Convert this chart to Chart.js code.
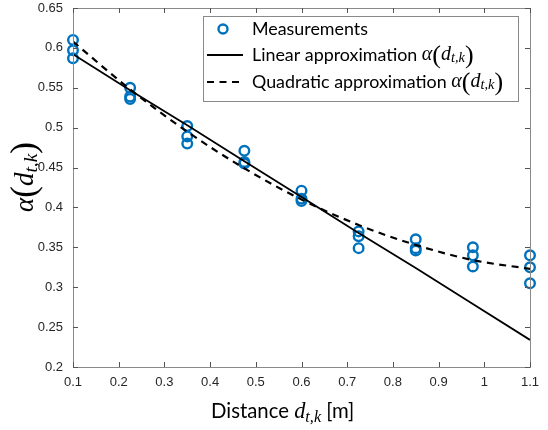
<!DOCTYPE html>
<html>
<head>
<meta charset="utf-8">
<script src="https://cdn.jsdelivr.net/npm/chart.js@4.4.1/dist/chart.umd.min.js"></script>
<style>
  html, body { margin: 0; padding: 0; background: #fff; }
  #wrap { width: 548px; height: 430px; }
</style>
</head>
<body>
<div id="wrap"><canvas id="fitChart" width="548" height="430"></canvas></div>
<script>
'use strict';

// distances where alpha was measured
var distances = [0.1, 0.225, 0.35, 0.475, 0.6, 0.725, 0.85, 0.975, 1.1];
// three repeated measurements per distance
var meas1 = [0.610, 0.550, 0.502, 0.471, 0.421, 0.370, 0.360, 0.350, 0.340];
var meas2 = [0.597, 0.539, 0.489, 0.457, 0.411, 0.364, 0.349, 0.340, 0.325];
var meas3 = [0.587, 0.536, 0.480, 0.455, 0.408, 0.349, 0.346, 0.326, 0.305];
// fitted curves read at the same distances
var linearFit = [0.592, 0.547, 0.503, 0.458, 0.413, 0.368, 0.324, 0.279, 0.234];
var quadFit   = [0.608, 0.548, 0.495, 0.449, 0.410, 0.378, 0.353, 0.334, 0.323];

var xTicks = [0.1, 0.2, 0.3, 0.4, 0.5, 0.6, 0.7, 0.8, 0.9, 1.0, 1.1];
var xTickLabels = ['0.1', '0.2', '0.3', '0.4', '0.5', '0.6', '0.7', '0.8', '0.9', '1', '1.1'];
var yTicks = [0.2, 0.25, 0.3, 0.35, 0.4, 0.45, 0.5, 0.55, 0.6, 0.65];
var yTickLabels = ['0.2', '0.25', '0.3', '0.35', '0.4', '0.45', '0.5', '0.55', '0.6', '0.65'];

var blue = '#0072BD';
var axisGray = '#8a8a8a';
var textColor = '#262626';
var sans = 'Lato, "Open Sans", sans-serif';
var serif = '"Liberation Serif", "DejaVu Serif", serif';

function points(ys) {
    return distances.map(function (d, i) { return { x: d, y: ys[i] }; });
}

var measPoints = points(meas1).concat(points(meas2), points(meas3));

// pick a font size so that text has roughly the wanted width
function fitSize(ctx, text, family, width) {
    ctx.font = '20px ' + family;
    return 20 * width / ctx.measureText(text).width;
}

// draw a run of text pieces with different fonts / vertical offsets
function drawRich(ctx, x, y, parts, align) {
    var total = 0;
    parts.forEach(function (p) { ctx.font = p.font; p.w = ctx.measureText(p.t).width; total += p.w; });
    var cx = align === 'center' ? x - total / 2 : x;
    parts.forEach(function (p) {
        ctx.font = p.font;
        ctx.fillText(p.t, cx, y + (p.dy || 0));
        cx += p.w;
    });
}

function alphaParts(size) {
    return [
        { t: '\u03b1', font: 'italic ' + size + 'px ' + serif },
        { t: '(', font: (size * 1.3) + 'px ' + serif, dy: size * 0.08 },
        { t: 'd', font: 'italic ' + size + 'px ' + serif },
        { t: 't,k', font: 'italic ' + (size * 0.72) + 'px ' + serif, dy: size * 0.15 },
        { t: ')', font: (size * 1.3) + 'px ' + serif, dy: size * 0.08 }
    ];
}

var framePlugin = {
    id: 'frame',
    afterDraw: function (chart) {
        var ctx = chart.ctx;
        var a = chart.chartArea;
        var xs = chart.scales.x, ys = chart.scales.y;
        ctx.save();
        // axes box
        ctx.strokeStyle = axisGray;
        ctx.lineWidth = 1;
        ctx.strokeRect(Math.round(a.left) + 0.5, Math.round(a.top) + 0.5,
            Math.round(a.right - a.left), Math.round(a.bottom - a.top));
        // inward ticks
        ctx.strokeStyle = '#555';
        ctx.beginPath();
        xTicks.forEach(function (v) {
            var px = Math.round(xs.getPixelForValue(v)) + 0.5;
            ctx.moveTo(px, a.bottom); ctx.lineTo(px, a.bottom - 5);
            ctx.moveTo(px, a.top); ctx.lineTo(px, a.top + 5);
        });
        yTicks.forEach(function (v) {
            var py = Math.round(ys.getPixelForValue(v)) + 0.5;
            ctx.moveTo(a.left, py); ctx.lineTo(a.left + 5, py);
            ctx.moveTo(a.right, py); ctx.lineTo(a.right - 5, py);
        });
        ctx.stroke();

        // tick labels
        ctx.fillStyle = textColor;
        ctx.font = '13px "Liberation Sans", Arial, sans-serif';
        ctx.textBaseline = 'middle';
        ctx.textAlign = 'center';
        xTicks.forEach(function (v, i) {
            ctx.fillText(xTickLabels[i], xs.getPixelForValue(v), a.bottom + 15);
        });
        ctx.textAlign = 'right';
        yTicks.forEach(function (v, i) {
            ctx.fillText(yTickLabels[i], a.left - 10, ys.getPixelForValue(v));
        });

        // axis titles
        ctx.textAlign = 'left';
        ctx.textBaseline = 'alphabetic';
        ctx.fillStyle = '#000';
        var titleSize = fitSize(ctx, 'Distance', sans, 78);
        drawRich(ctx, 211, 418, [
            { t: 'Distance ', font: titleSize + 'px ' + sans },
            { t: 'd', font: 'italic ' + (titleSize * 1.1) + 'px ' + serif },
            { t: 't,k', font: 'italic ' + (titleSize * 0.8) + 'px ' + serif, dy: 4 },
            { t: ' [m]', font: titleSize + 'px ' + sans }
        ], 'left');

        ctx.save();
        ctx.translate(33, 177);
        ctx.rotate(-Math.PI / 2);
        drawRich(ctx, 0, 0, alphaParts(27), 'center');
        ctx.restore();

        // legend
        var lx = 203, ly = 16, lw = 315, lh = 85;
        ctx.fillStyle = '#fff';
        ctx.fillRect(lx, ly, lw, lh);
        ctx.strokeStyle = axisGray;
        ctx.strokeRect(lx + 0.5, ly + 0.5, lw, lh);

        var rows = [29, 55, 82];
        ctx.strokeStyle = blue;
        ctx.lineWidth = 2.4;
        ctx.beginPath();
        ctx.arc(223, rows[0], 4.5, 0, Math.PI * 2);
        ctx.stroke();

        ctx.strokeStyle = '#000';
        ctx.lineWidth = 1.8;
        ctx.beginPath();
        ctx.moveTo(207, rows[1]); ctx.lineTo(243, rows[1]);
        ctx.stroke();
        ctx.lineWidth = 2.2;
        ctx.setLineDash([7, 5.5]);
        ctx.beginPath();
        ctx.moveTo(207, rows[2]); ctx.lineTo(243, rows[2]);
        ctx.stroke();
        ctx.setLineDash([]);

        ctx.fillStyle = '#000';
        var legSize = fitSize(ctx, 'Measurements', sans, 116);
        ctx.textBaseline = 'middle';
        ctx.font = legSize + 'px ' + sans;
        ctx.fillText('Measurements', 252, rows[0]);
        drawRich(ctx, 252, rows[1], [{ t: 'Linear approximation ', font: legSize + 'px ' + sans }].concat(alphaParts(20)), 'left');
        drawRich(ctx, 252, rows[2], [{ t: 'Quadratic approximation ', font: legSize + 'px ' + sans }].concat(alphaParts(20)), 'left');
        ctx.restore();
    }
};

var ctx = document.getElementById('fitChart').getContext('2d');
var fitChart = new Chart(ctx, {
    type: 'scatter',
    data: {
        datasets: [{
            label: 'Measurements',
            data: measPoints,
            showLine: false,
            pointStyle: 'circle',
            pointRadius: 4.8,
            pointBorderWidth: 2.4,
            pointBackgroundColor: 'rgba(0,0,0,0)',
            borderColor: blue,
            clip: false,
            order: 3
        }, {
            label: 'Linear approximation',
            data: points(linearFit),
            showLine: true,
            pointRadius: 0,
            borderColor: '#000',
            borderWidth: 1.8,
            order: 1
        }, {
            label: 'Quadratic approximation',
            data: points(quadFit),
            showLine: true,
            cubicInterpolationMode: 'monotone',
            pointRadius: 0,
            borderColor: '#000',
            borderWidth: 2.2,
            borderDash: [7, 5.5],
            order: 2
        }]
    },
    options: {
        responsive: false,
        animation: false,
        layout: { padding: { left: 73, right: 18, top: 8, bottom: 63 } },
        plugins: { legend: { display: false }, tooltip: { enabled: false } },
        scales: {
            x: { type: 'linear', min: 0.1, max: 1.1, display: false },
            y: { type: 'linear', min: 0.2, max: 0.65, display: false }
        }
    },
    plugins: [framePlugin]
});
</script>
</body>
</html>
